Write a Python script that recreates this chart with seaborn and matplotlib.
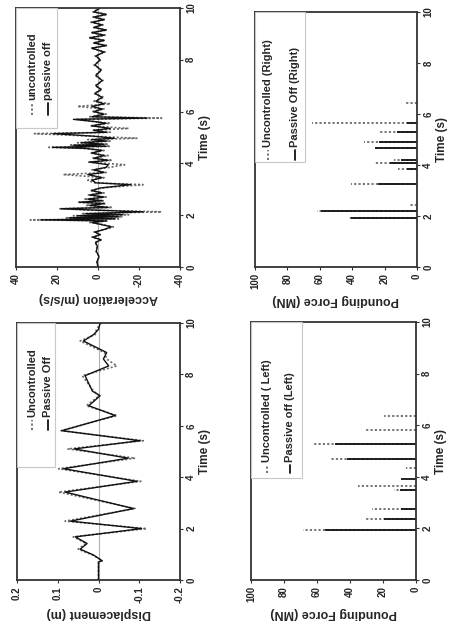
import matplotlib
matplotlib.use('Agg')
import matplotlib.pyplot as plt
import seaborn as sns
from matplotlib.patches import Rectangle
from matplotlib.lines import Line2D

# displacement response (m)
disp_time = [0, 0.7, 0.75, 0.97, 1.2, 1.42, 1.68, 2.0, 2.29, 2.78, 3.42, 3.84, 4.33, 4.74,
             5.1, 5.42, 5.81, 6.4, 6.78, 7.17, 7.35, 7.95, 8.33, 8.6, 8.85, 9.3, 9.55, 9.75, 10.0]
disp_uncontrolled = [0, 0, -0.009, 0.014, 0.05, 0.03, 0.062, -0.118, 0.082, -0.09, 0.098, -0.104, 0.098, -0.09,
                     0.075, -0.11, 0.092, -0.046, 0.03, -0.002, 0.012, 0.04, -0.045, -0.02, -0.015, 0.045, 0.008, 0.005, -0.006]
disp_passive = [0, 0, -0.009, 0.012, 0.045, 0.028, 0.057, -0.106, 0.069, -0.086, 0.082, -0.094, 0.086, -0.073,
                0.06, -0.102, 0.09, -0.041, 0.024, -0.004, 0.015, 0.033, -0.025, -0.012, -0.02, 0.037, 0.012, 0.0, -0.004]

# acceleration response (m/s/s)
acc_time = [0, 0.2, 0.4, 0.6, 0.8, 0.95, 1.05, 1.15, 1.25, 1.35, 1.45, 1.55, 1.65, 1.72, 1.78, 1.82,
            1.86, 1.9, 1.94, 1.98, 2.02, 2.06, 2.13, 2.2, 2.25, 2.3, 2.38, 2.45, 2.5, 2.56, 2.62, 2.7,
            2.78, 2.86, 2.95, 3.05, 3.18, 3.25, 3.35, 3.45, 3.57, 3.65, 3.75, 3.85, 3.95, 4.05, 4.12,
            4.2, 4.3, 4.4, 4.5, 4.58, 4.62, 4.66, 4.7, 4.74, 4.8, 4.86, 4.92, 4.97, 5.05, 5.15, 5.2,
            5.28, 5.35, 5.45, 5.55, 5.62, 5.7, 5.75, 5.8, 5.9, 6.0, 6.1, 6.2, 6.3, 6.4, 6.55, 6.7, 6.85,
            7.0, 7.2, 7.4, 7.6, 7.8, 8.0, 8.15, 8.3, 8.45, 8.55, 8.65, 8.75, 8.85, 8.95, 9.05, 9.15,
            9.25, 9.35, 9.45, 9.55, 9.65, 9.75, 9.85, 10.0]
acc_passive = [0, 0.5, -0.5, 0.8, 0.3, 1.2, -1.5, 2.5, -1.0, 1.5, -3.0, -6.5, -1.0, 3.0, -4.0, 28,
               -8, 14, -10, 10, -12, 6, -22, 3, 18, -5, 4, -3, 9, -2, 5, -3,
               4, -2, 3, -1, -16, 1, 3, -2, 5, -3, 2, -4, -5, 4, -5,
               2, -3, 3, -2, 6, 22, -4, 12, -3, 8, -4, 3, -8, 2, 22, -4,
               2, -6, 3, -4, 2, 12, -24, 3, -3, 2, -2, 3, -3, 1, -2, 1.5, -1.5,
               1, -2, 1, -1.5, 1.5, -1, 1, -3, 3, -4, 2, -3, 4, -3, 3, -4,
               2, -2, 3, -3, 2, -4, 2, -1]
acc_uncontrolled = [0, 0.6, -0.6, 1.0, 0.4, 1.5, -1.8, 3.0, -1.2, 2.0, -3.5, -7.5, -1.5, 4.0, -5.0, 33,
                    -10, 16, -12, 12, -15, 8, -31, 4, 19, -7, 6, -4, 10, -3, 7, -4,
                    5, -3, 4, -2, -22, 2, 5, -3, 17, -4, 3, -6, -13, 5, -7,
                    3, -5, 4, -3, 8, 24, -6, 14, -5, 10, -6, 5, -19, 3, 31, -6,
                    3, -15, 4, -6, 3, 10, -31, 4, -4, 3, -3, 10, -6, 2, -3, 2, -2,
                    1.5, -2.5, 1.5, -2, 2, -1.5, 1.5, -3.5, 3.5, -4.5, 2.5, -3.5, 4.5, -3.5, 3.5, -4.5,
                    2.5, -2.5, 3.5, -3.5, 2.5, -4.5, 2.5, -1]

# pounding force, left side (MN)
pl_unc_time = [1.92, 2.37, 2.76, 3.5, 3.65, 4.36, 4.68, 5.28, 5.8, 6.35]
pl_unc_force = [68.6, 30.6, 26.5, 13.5, 35, 6, 52, 63, 30.6, 19.4]
pl_pas_time = [1.92, 2.37, 2.76, 3.5, 3.91, 4.68, 5.28]
pl_pas_force = [55, 19.4, 9, 10, 9, 41.8, 49]

# pounding force, right side (MN)
pr_unc_time = [1.93, 2.18, 2.42, 3.26, 3.83, 4.08, 4.2, 4.65, 4.9, 5.29, 5.63, 6.43]
pr_unc_force = [42, 62, 5, 41, 11.5, 26, 14, 26, 33, 24, 65, 8]
pr_pas_time = [1.93, 2.18, 3.26, 3.83, 4.08, 4.2, 4.65, 4.9, 5.29, 5.63]
pr_pas_force = [41, 59, 24, 6, 16.5, 10, 25.8, 23.7, 12.4, 6]

time_ticks = [0, 2, 4, 6, 8, 10]
dotted = (0, (1.2, 1.2))
unc_color = '#6a6a6a'
pas_color = '#111111'

sns.set_style('ticks')
plt.rcParams['font.family'] = ['Liberation Sans', 'DejaVu Sans']
plt.rcParams['font.weight'] = 'bold'

fig = plt.figure(figsize=(4.5, 6.31), dpi=100)
W, H = 450.0, 631.0


def make_axes(x0, x1, y0, y1):
    return fig.add_axes([x0 / W, 1 - y1 / H, (x1 - x0) / W, (y1 - y0) / H])


def style_axis(ax, vlim, vticks, vlabels, vname):
    ax.set_xlim(vlim)
    ax.set_ylim(0, 10)
    ax.set_xticks(vticks)
    ax.set_xticklabels(vlabels, rotation=90, fontsize=7, fontweight='bold')
    ax.set_yticks(time_ticks)
    ax.set_yticklabels([str(t) for t in time_ticks], rotation=90, va='center', fontsize=7, fontweight='bold')
    ax.yaxis.tick_right()
    ax.yaxis.set_label_position('right')
    ax.set_ylabel('Time (s)', rotation=90, fontsize=8.5, fontweight='bold', labelpad=2)
    ax.set_xlabel(vname, rotation=180, fontsize=9, fontweight='bold', labelpad=3)
    ax.tick_params(direction='out', length=2.5, width=0.8, pad=2, color='#333333')
    for sp in ax.spines.values():
        sp.set_visible(True)
        sp.set_color('#333333')
        sp.set_linewidth(1.3)


def draw_legend(ax, box, xs, ly, ty, labels):
    ax.add_patch(Rectangle((box[0], box[1]), box[2], box[3], transform=ax.transAxes,
                           facecolor='white', edgecolor='#c8c8c8', linewidth=0.8, zorder=5))
    styles = [(dotted, unc_color), ('-', pas_color)]
    for fx, label, (ls, col) in zip(xs, labels, styles):
        ax.add_line(Line2D([fx, fx], ly, transform=ax.transAxes, linestyle=ls, color=col,
                           linewidth=1.3, zorder=6))
        ax.text(fx, ty, label, transform=ax.transAxes, rotation=90, ha='center', va='bottom',
                fontsize=8, fontweight='bold', zorder=6)


# acceleration (top-left)
ax_acc = make_axes(16, 180, 8, 267)
ax_acc.axvline(0, color='#b0b0b0', lw=0.8, zorder=0)
sns.lineplot(x=acc_uncontrolled, y=acc_time, sort=False, estimator=None, ax=ax_acc,
             color=unc_color, linestyle=dotted, linewidth=1.2)
sns.lineplot(x=acc_passive, y=acc_time, sort=False, estimator=None, ax=ax_acc,
             color=pas_color, linewidth=1.0)
style_axis(ax_acc, (40, -40), [40, 20, 0, -20, -40], ['40', '20', '0', '-20', '-40'],
           'Acceleration (m/s/s)')
draw_legend(ax_acc, (0.0, 0.537, 0.25, 0.463), [0.098, 0.195], [0.587, 0.633], 0.645,
            ['uncontrolled', 'passive off'])

# displacement (bottom-left)
ax_disp = make_axes(17, 180, 323, 580)
ax_disp.axvline(0, color='#b0b0b0', lw=0.8, zorder=0)
sns.lineplot(x=disp_uncontrolled, y=disp_time, sort=False, estimator=None, ax=ax_disp,
             color=unc_color, linestyle=dotted, linewidth=1.2)
sns.lineplot(x=disp_passive, y=disp_time, sort=False, estimator=None, ax=ax_disp,
             color=pas_color, linewidth=1.0)
style_axis(ax_disp, (0.2, -0.2), [0.2, 0.1, 0, -0.1, -0.2], ['0.2', '0.1', '0', '-0.1', '-0.2'],
           'Displacement (m)')
draw_legend(ax_disp, (0.0, 0.44, 0.233, 0.56), [0.092, 0.19], [0.584, 0.623], 0.634,
            ['Uncontrolled', 'Passive Off'])

# pounding force right (top-right)
ax_pr = make_axes(255, 417, 12, 267)
ax_pr.hlines(pr_unc_time, 0, pr_unc_force, colors=unc_color, linestyles=dotted, linewidth=1.3)
ax_pr.hlines(pr_pas_time, 0, pr_pas_force, colors=pas_color, linewidth=1.3)
style_axis(ax_pr, (100, 0), [100, 80, 60, 40, 20, 0], ['100', '80', '60', '40', '20', '0'],
           'Pounding Force (MN)')
draw_legend(ax_pr, (0.0, 0.41, 0.31, 0.59), [0.08, 0.247], [0.42, 0.46], 0.47,
            ['Uncontrolled (Right)', 'Passive Off (Right)'])

# pounding force left (bottom-right)
ax_pl = make_axes(251, 416, 322, 580)
ax_pl.hlines(pl_unc_time, 0, pl_unc_force, colors=unc_color, linestyles=dotted, linewidth=1.3)
ax_pl.hlines(pl_pas_time, 0, pl_pas_force, colors=pas_color, linewidth=1.3)
style_axis(ax_pl, (100, 0), [100, 80, 60, 40, 20, 0], ['100', '80', '60', '40', '20', '0'],
           'Pounding Force (MN)')
draw_legend(ax_pl, (0.0, 0.395, 0.31, 0.605), [0.097, 0.237], [0.415, 0.446], 0.459,
            ['Uncontrolled ( Left)', 'Passive off (Left)'])

fig.savefig('out.png', dpi=100)
